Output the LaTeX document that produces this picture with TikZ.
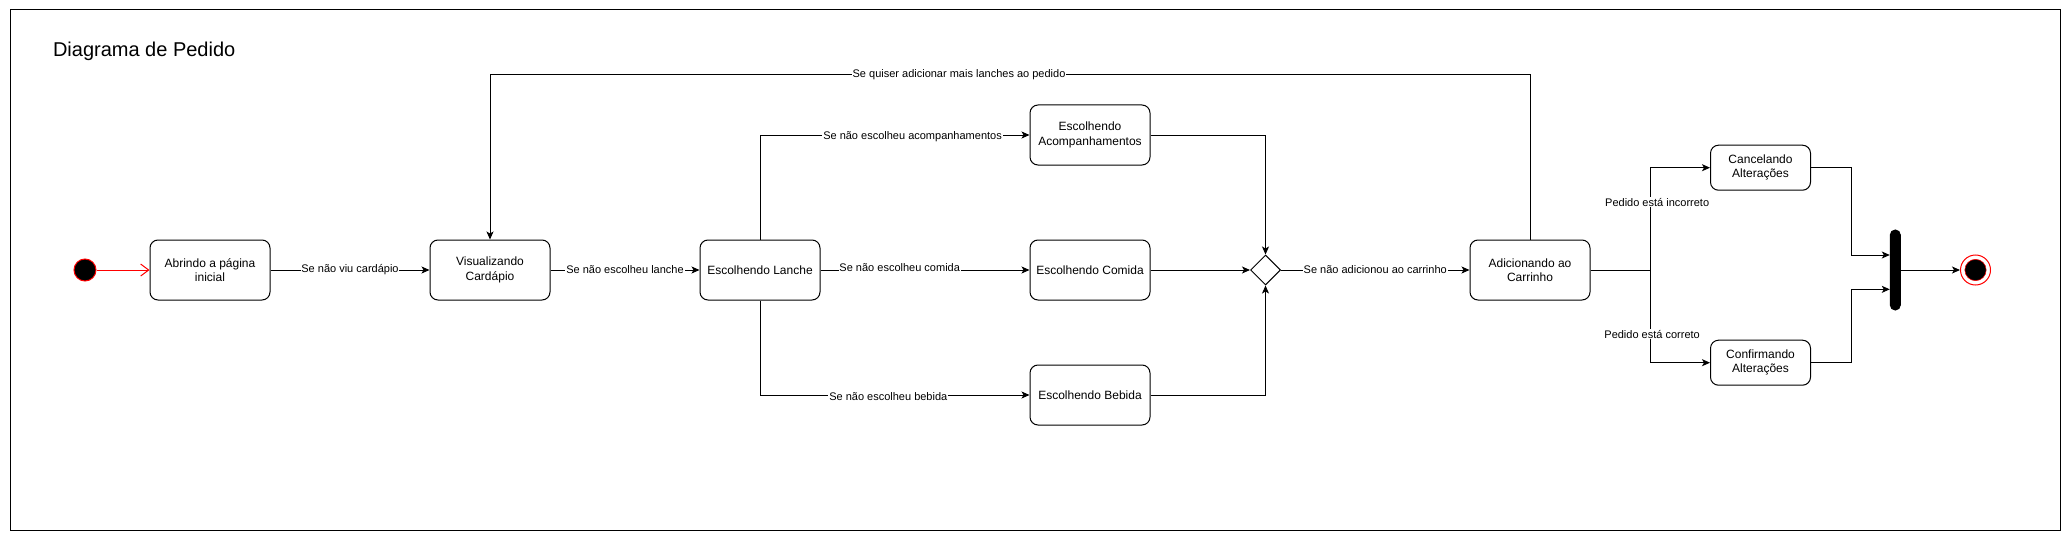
\documentclass[tikz,border=0pt]{standalone}
\usepackage{fontspec}
\setmainfont{Liberation Sans}
\usetikzlibrary{arrows.meta,shapes.geometric}
\begin{document}
\begin{tikzpicture}[x=0.75pt,y=-0.75pt,
  line width=0.75pt,
  >={Stealth[length=6pt,width=5.25pt,inset=1.5pt]},
  state/.style={draw,rounded corners=6pt,minimum width=90pt,minimum height=45pt,
    align=center,font=\fontsize{9pt}{10.8pt}\selectfont,inner sep=1pt},
  smallstate/.style={state,minimum width=75pt,minimum height=33.75pt},
  lbl/.style={fill=white,inner sep=0.6pt,font=\fontsize{8.25pt}{9.9pt}\selectfont}]
\useasboundingbox (0,0) rectangle (2071,542);
\draw (10,10) rectangle (2060,530);
\node[anchor=west,font=\fontsize{15pt}{18pt}\selectfont,inner sep=0] (title) at (52.5,51) {Diagrama de Pedido};

\node[circle,draw=red,fill=black,minimum size=16.5pt,inner sep=0] (init) at (85,270) {};
\node[state] (b1) at (210,270) {Abrindo a página\\inicial};
\node[state] (b2) at (490,270) {Visualizando\\Cardápio};
\node[state] (b3) at (760,270) {Escolhendo Lanche};
\node[state] (acomp) at (1090,135) {Escolhendo\\Acompanhamentos};
\node[state] (comida) at (1090,270) {Escolhendo Comida};
\node[state] (bebida) at (1090,395) {Escolhendo Bebida};
\node[diamond,draw,minimum width=22.5pt,minimum height=22.5pt,inner sep=0] (dia) at (1265.5,270) {};
\node[state] (add) at (1530,270) {Adicionando ao\\Carrinho};
\node[smallstate] (cancel) at (1760.5,167.7) {Cancelando\\Alterações};
\node[smallstate] (confirm) at (1760.5,362.7) {Confirmando\\Alterações};
\node[draw,fill=black,rounded corners=3.75pt,minimum width=7.5pt,minimum height=60pt,inner sep=0] (bar) at (1895.3,270) {};
\node[circle,draw=red,fill=white,minimum size=22.5pt,inner sep=0] (fin) at (1975.5,270) {};
\node[circle,draw=red,line width=0.4pt,fill=black,minimum size=16pt,inner sep=0] (finin) at (1975.5,270) {};

\coordinate (loopR) at (1530,75);
\coordinate (jn) at (1650.5,270);
\coordinate (rc) at (1851,270);
\coordinate (barT) at ([yshift=11.25pt]bar.west);
\coordinate (barB) at ([yshift=-14.5pt]bar.west);

\draw[red,-{Straight Barb[length=6pt,width=9pt]}] (init) -- (b1);
\draw[->] (b1) -- node[lbl]{Se não viu cardápio} (b2);
\draw[->] (b2) -- node[lbl]{Se não escolheu lanche} (b3);
\draw[->] (b3.north) |- node[lbl,pos=0.783,yshift=-1.5pt]{Se não escolheu acompanhamentos} (acomp.west);
\draw[->] (b3) -- node[lbl,pos=0.379,yshift=1.5pt]{Se não escolheu comida} (comida);
\draw[->] (b3.south) |- node[lbl,pos=0.738,yshift=-0.8pt]{Se não escolheu bebida} (bebida.west);
\draw[->] (acomp.east) -| (dia.north);
\draw[->] (comida) -- (dia);
\draw[->] (bebida.east) -| (dia.south);
\draw[->] (dia) -- node[lbl]{Se não adicionou ao carrinho} (add);
\draw[->] (add.north) -- (loopR) -| node[lbl,pos=0.2745]{Se quiser adicionar mais lanches ao pedido} (b2.north);
\draw[->] (add.east) -- (jn) |- node[lbl,pos=0.332,xshift=5pt]{Pedido está incorreto} (cancel.west);
\draw[->] (add.east) -- (jn) |- node[lbl,pos=0.347,xshift=1.2pt]{Pedido está correto} (confirm.west);
\draw[->] (cancel.east) -| (rc |- barT) -- (barT);
\draw[->] (confirm.east) -| (rc |- barB) -- (barB);
\draw[->] (bar) -- (fin);
\end{tikzpicture}
\end{document}
